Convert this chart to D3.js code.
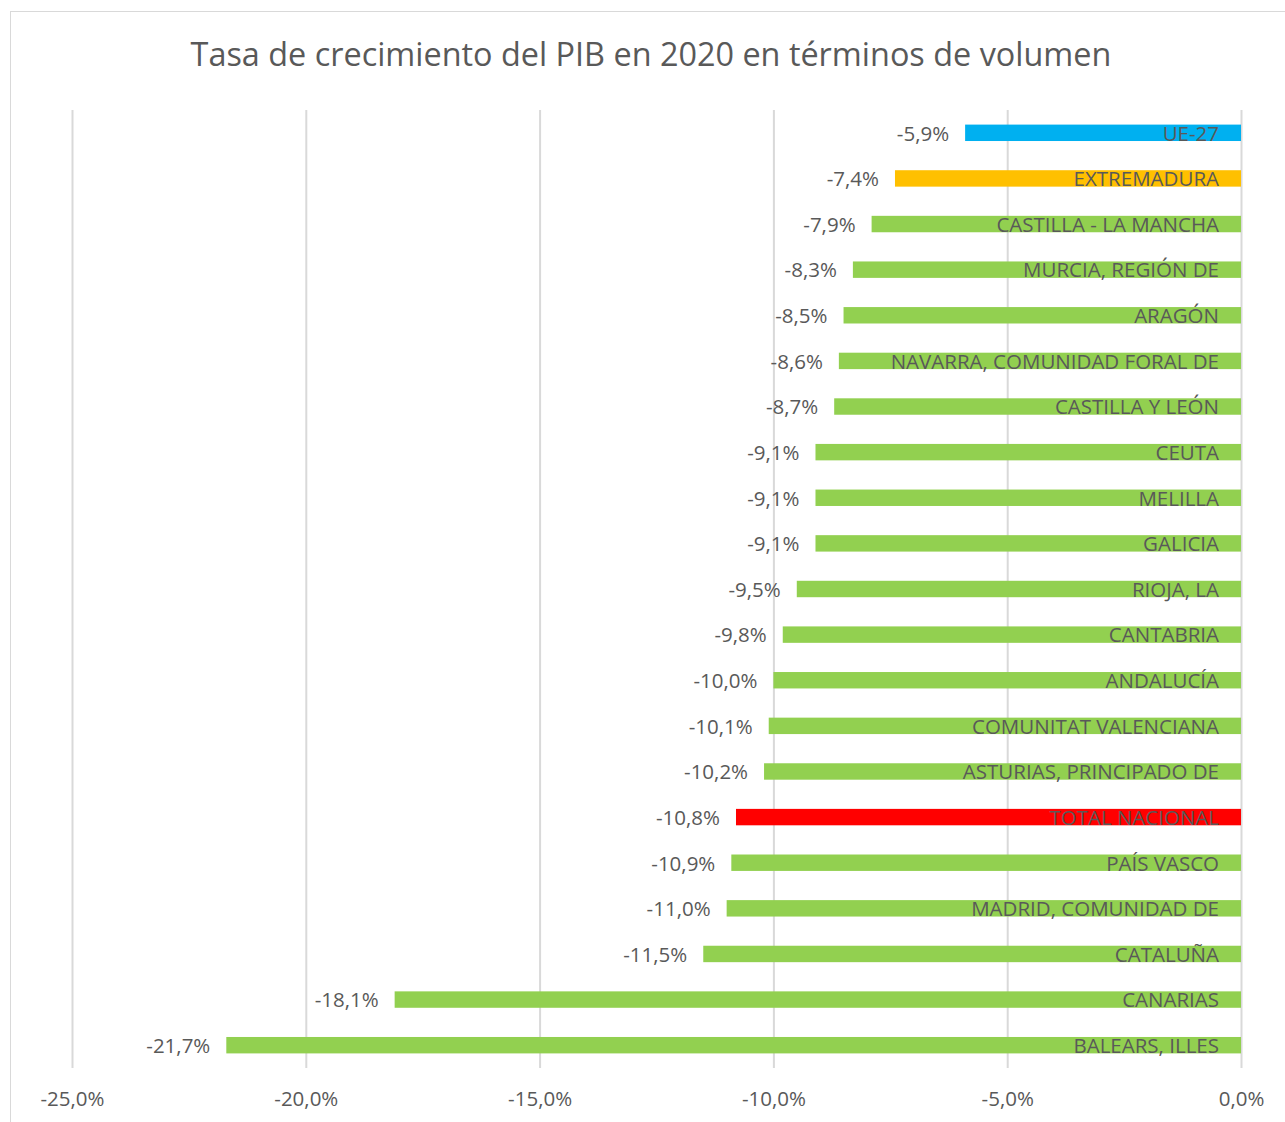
<!DOCTYPE html>
<html>
<head>
<meta charset="utf-8">
<script src="https://cdn.jsdelivr.net/npm/d3@7"></script>
<style>
  body { margin: 0; background: #fff; }
  svg text { font-family: "Open Sans", "Liberation Sans", sans-serif; fill: #595959; }
</style>
</head>
<body>
<svg id="chart"></svg>
<script>
// categories from top to bottom
const regions = [
  "UE-27", "EXTREMADURA", "CASTILLA - LA MANCHA", "MURCIA, REGIÓN DE", "ARAGÓN",
  "NAVARRA, COMUNIDAD FORAL DE", "CASTILLA Y LEÓN", "CEUTA", "MELILLA", "GALICIA",
  "RIOJA, LA", "CANTABRIA", "ANDALUCÍA", "COMUNITAT VALENCIANA",
  "ASTURIAS, PRINCIPADO DE", "TOTAL NACIONAL", "PAÍS VASCO", "MADRID, COMUNIDAD DE",
  "CATALUÑA", "CANARIAS", "BALEARS, ILLES"
];
const growth = [
  -5.9, -7.4, -7.9, -8.3, -8.5, -8.6, -8.7, -9.1, -9.1, -9.1,
  -9.5, -9.8, -10.0, -10.1, -10.2, -10.8, -10.9, -11.0, -11.5, -18.1, -21.7
];
const xTicks = [-25, -20, -15, -10, -5, 0];
const highlight = { "UE-27": "#00B0F0", "EXTREMADURA": "#FFC000", "TOTAL NACIONAL": "#FF0000" };
const baseColor = "#92D050";

const width = 1285;
const height = 1122;
const margin = { top: 110, right: 44, bottom: 54, left: 72 };

const svg = d3.select("#chart").attr("width", width).attr("height", height);

// chart frame
svg.append("rect")
  .attr("x", 10.5).attr("y", 11.5)
  .attr("width", width).attr("height", height)
  .attr("fill", "none").attr("stroke", "#d9d9d9");

svg.append("text")
  .attr("x", 651).attr("y", 66)
  .attr("text-anchor", "middle")
  .attr("font-size", 32.4)
  .text("Tasa de crecimiento del PIB en 2020 en términos de volumen");

const x = d3.scaleLinear().domain([-25, 0]).range([margin.left, width - margin.right]);
const y = d3.scaleBand().domain(regions).range([margin.top, height - margin.bottom]).paddingInner(0.64).paddingOuter(0.32);

// vertical gridlines
svg.append("g")
  .selectAll("line")
  .data(xTicks)
  .join("line")
  .attr("x1", d => x(d) + 0.5).attr("x2", d => x(d) + 0.5)
  .attr("y1", margin.top).attr("y2", height - margin.bottom)
  .attr("stroke", "#d9d9d9").attr("stroke-width", 2);

// x axis labels
const fmt = v => d3.format(".1f")(v).replace("−", "-").replace(".", ",") + "%";
const xAxis = d3.axisBottom(x).tickValues(xTicks).tickSize(0).tickPadding(0).tickFormat(fmt);
svg.append("g")
  .attr("transform", `translate(0,${height - margin.bottom + 31})`)
  .call(xAxis)
  .call(g => g.select(".domain").remove())
  .call(g => g.selectAll("text").attr("font-size", 20.5).attr("fill", "#595959").attr("dy", "0.35em"));

const rows = regions.map((r, i) => ({ region: r, value: growth[i] }));

// bars
svg.append("g")
  .selectAll("rect")
  .data(rows)
  .join("rect")
  .attr("x", d => x(d.value))
  .attr("y", d => y(d.region))
  .attr("width", d => x(0) - x(d.value))
  .attr("height", y.bandwidth())
  .attr("fill", d => highlight[d.region] || baseColor);

// category names inside bars
svg.append("g")
  .selectAll("text")
  .data(rows)
  .join("text")
  .attr("x", x(0) - 22)
  .attr("y", d => y(d.region) + y.bandwidth() / 2)
  .attr("dy", "0.38em")
  .attr("text-anchor", "end")
  .attr("font-size", 20.5)
  .text(d => d.region);

// value labels
svg.append("g")
  .selectAll("text")
  .data(rows)
  .join("text")
  .attr("x", d => x(d.value) - 16)
  .attr("y", d => y(d.region) + y.bandwidth() / 2)
  .attr("dy", "0.38em")
  .attr("text-anchor", "end")
  .attr("font-size", 20.5)
  .text(d => fmt(d.value));
</script>
</body>
</html>
